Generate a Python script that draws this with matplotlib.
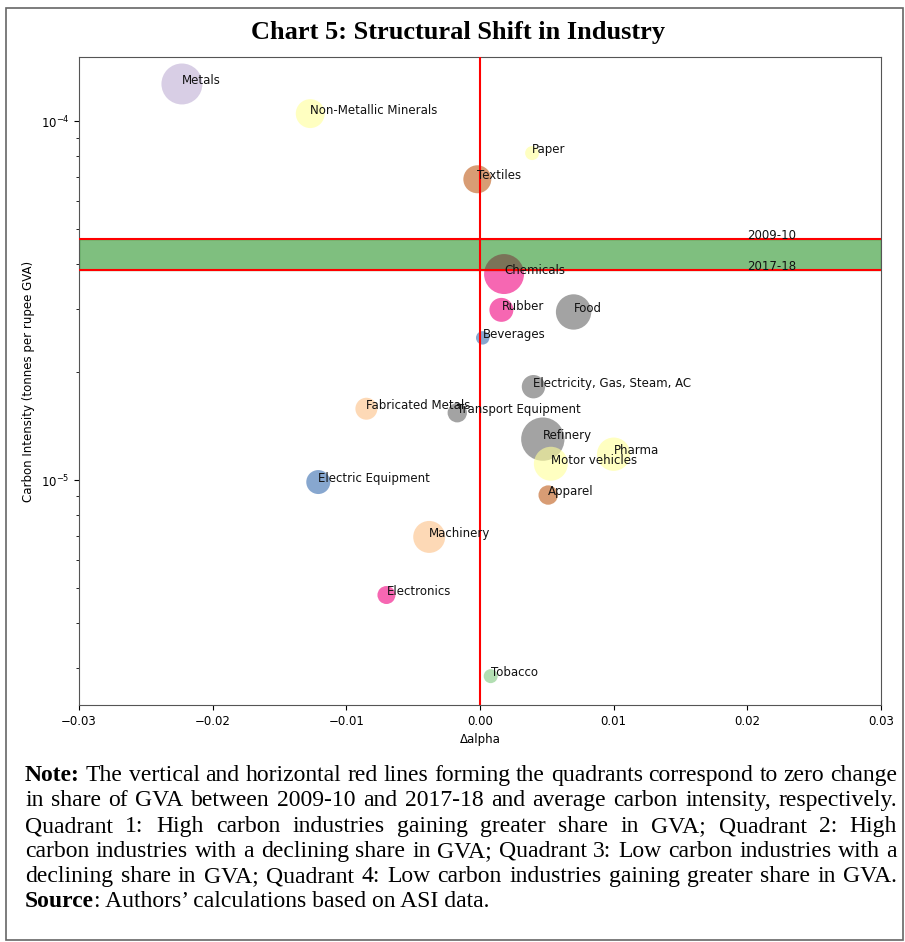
import matplotlib
matplotlib.use("Agg")
import matplotlib.pyplot as plt
from matplotlib.patches import Rectangle
from matplotlib.ticker import NullFormatter

industries = ["Metals", "Non-Metallic Minerals", "Paper", "Textiles", "Chemicals",
              "Rubber", "Food", "Beverages", "Electricity, Gas, Steam, AC",
              "Fabricated Metals", "Transport Equipment", "Refinery", "Pharma",
              "Motor vehicles", "Apparel", "Electric Equipment", "Machinery",
              "Electronics", "Tobacco"]
delta_alpha = [-0.0223, -0.0127, 0.0039, -0.0002, 0.0018,
               0.0016, 0.0070, 0.0002, 0.0040,
               -0.0085, -0.0017, 0.0047, 0.0100,
               0.0053, 0.0051, -0.0121, -0.0038,
               -0.0070, 0.0008]
carbon_intensity = [1.27e-4, 1.05e-4, 8.15e-5, 6.89e-5, 3.75e-5,
                    2.98e-5, 2.94e-5, 2.49e-5, 1.82e-5,
                    1.58e-5, 1.54e-5, 1.30e-5, 1.18e-5,
                    1.11e-5, 9.08e-6, 9.87e-6, 6.94e-6,
                    4.78e-6, 2.84e-6]
gva_weight = [420, 210, 49, 196, 400,
              144, 313, 45, 137,
              121, 94, 470, 279,
              289, 94, 144, 256,
              81, 49]
# index into the Accent palette
group = [1, 3, 3, 6, 5,
         5, 7, 4, 7,
         2, 7, 7, 3,
         3, 6, 4, 2,
         5, 0]

avg_2009 = 4.69e-5
avg_2017 = 3.845e-5

note_lines = [
    [("Note:", "bold"), ("The vertical and horizontal red lines forming the quadrants correspond to zero change", "normal")],
    [("in share of GVA between 2009-10 and 2017-18 and average carbon intensity, respectively.", "normal")],
    [("Quadrant 1: High carbon industries gaining greater share in GVA; Quadrant 2: High", "normal")],
    [("carbon industries with a declining share in GVA; Quadrant 3: Low carbon industries with a", "normal")],
    [("declining share in GVA; Quadrant 4: Low carbon industries gaining greater share in GVA.", "normal")],
]

W, H = 905, 942
fig = plt.figure(figsize=(W / 100, H / 100), dpi=100)
ax = fig.add_axes([79 / W, 1 - 705 / H, (881 - 79) / W, (705 - 57) / H])

cmap = plt.get_cmap("Accent")
colors = [cmap(g) for g in group]

ax.scatter(delta_alpha, carbon_intensity, s=[w * 2.07 for w in gva_weight],
           c=colors, alpha=0.6, linewidths=0, zorder=2)
# band between the two average intensities sits over the bubbles
ax.axhspan(avg_2017, avg_2009, color="green", alpha=0.5, zorder=2.5)
ax.axhline(avg_2009, color="red", lw=1.5, zorder=3)
ax.axhline(avg_2017, color="red", lw=1.5, zorder=3)
ax.axvline(0, color="red", lw=1.5, zorder=3)

for name, x, y in zip(industries, delta_alpha, carbon_intensity):
    ax.text(x, y, name, fontsize=8.5, color="#111111", zorder=4)
ax.text(0.02, avg_2009, "2009-10", fontsize=8.5, color="#111111", zorder=4)
ax.text(0.02, avg_2017, "2017-18", fontsize=8.5, color="#111111", zorder=4)

ax.set_yscale("log")
ax.set_xlim(-0.03, 0.03)
ax.set_ylim(2.36e-6, 1.51e-4)
ax.yaxis.set_minor_formatter(NullFormatter())
ax.tick_params(labelsize=8.5)
ax.set_xlabel("\u0394alpha", fontsize=8.5)
ax.set_ylabel("Carbon Intensity (tonnes per rupee GVA)", fontsize=8.5)
for sp in ax.spines.values():
    sp.set_color("#555555")

# outer frame and title
fig.patches.append(Rectangle((6 / W, 2 / H), (903 - 6) / W, (934 - 2) / H,
                             transform=fig.transFigure, fill=False,
                             edgecolor="#666666", lw=1.2))
fig.text(458 / W, 1 - 32 / H, "Chart 5: Structural Shift in Industry",
         family="Liberation Serif", fontweight="bold", fontsize=19,
         ha="center", va="center")

# justified note text
renderer = fig.canvas.get_renderer()
fs = 17
x0, x1 = 25, 897
baselines = [781, 806, 832, 857, 882]

def word_width(word, weight):
    t = fig.text(0, 0, word, family="Liberation Serif", fontweight=weight, fontsize=fs)
    w = t.get_window_extent(renderer).width
    t.remove()
    return w

for line, yb in zip(note_lines, baselines):
    words = []
    for chunk, weight in line:
        for w in chunk.split():
            words.append((w, weight))
    widths = [word_width(w, wt) for w, wt in words]
    gap = (x1 - x0 - sum(widths)) / (len(words) - 1)
    xp = x0
    for (w, wt), wd in zip(words, widths):
        fig.text(xp / W, 1 - yb / H, w, family="Liberation Serif",
                 fontweight=wt, fontsize=fs, va="baseline")
        xp += wd + gap

src_w = word_width("Source", "bold")
fig.text(x0 / W, 1 - 907 / H, "Source", family="Liberation Serif",
         fontweight="bold", fontsize=fs, va="baseline")
fig.text((x0 + src_w) / W, 1 - 907 / H, ": Authors\u2019 calculations based on ASI data.",
         family="Liberation Serif", fontsize=fs, va="baseline")

fig.savefig("out.png", dpi=100)
